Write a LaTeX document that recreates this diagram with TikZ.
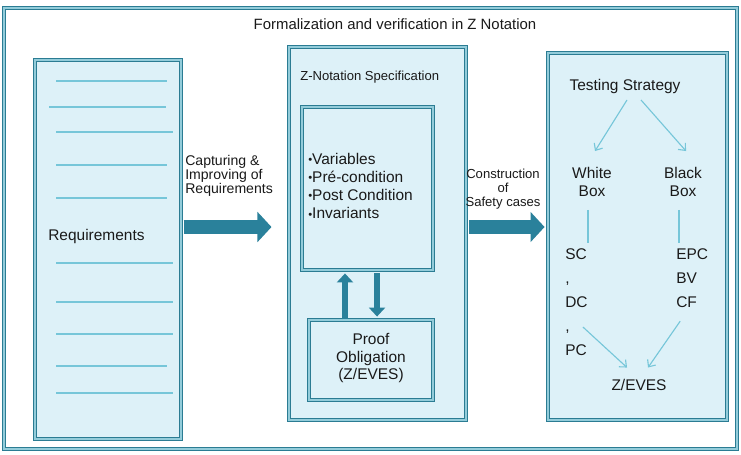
\documentclass[tikz,border=0pt]{standalone}
\usepackage{xcolor}
\usepackage{fontspec}
\setmainfont{Liberation Sans}
\usetikzlibrary{arrows.meta,fit}
\definecolor{ZEdge}{HTML}{2B7C93}
\definecolor{ZPale}{HTML}{93CCDA}
\definecolor{ZFill}{HTML}{DDF1F8}
\definecolor{ZLine}{HTML}{76C6D9}
\definecolor{ZArrow}{HTML}{2A819B}
\definecolor{ZText}{HTML}{1A1A1A}
\newcommand{\zbullet}{\raisebox{0.6pt}{\fontsize{8}{8}\selectfont\textbullet}}
\tikzset{
  panel/.style={draw=ZEdge,double=ZPale,double distance=0.9pt,line width=0.9pt,fill=ZFill,inner sep=0pt},
  frame/.style={draw=ZEdge,double=ZPale,double distance=0.9pt,line width=0.9pt,fill=white,inner sep=0pt},
  reqline/.style={ZLine,line width=1pt},
  tline/.style={ZLine,line width=0.8pt},
  tarrow/.style={ZLine,line width=0.8pt,-{Straight Barb[length=4pt,width=7pt]}},
  bigarrow/.style={ZArrow,line width=10pt,-{Triangle[width=21pt,length=10pt]}},
  smallarrow/.style={ZArrow,line width=4.3pt,-{Triangle[width=11.4pt,length=6.4pt]}},
  tx/.style={text=ZText,inner sep=0pt,font=\fontsize{11}{12.8}\selectfont}
}
\begin{document}
\begin{tikzpicture}[x=0.025cm,y=-0.025cm]
\path[use as bounding box] (0,0) rectangle (741,454);
\node[frame,fit={(4,8) (737,449)}] (outer) {};
\node[tx,font=\fontsize{10.6}{12}\selectfont] (title) at (395,24) {Formalization and verification in Z Notation};

\node[panel,fit={(35,60) (181,439)}] (req) {};
\draw[reqline] (56,81) -- (167,81);
\draw[reqline] (49,107) -- (166,107);
\draw[reqline] (56,132) -- (173,132);
\draw[reqline] (56,165) -- (167,165);
\draw[reqline] (56,198) -- (167,198);
\draw[reqline] (56,263) -- (173,263);
\draw[reqline] (56,302) -- (173,302);
\draw[reqline] (56,334) -- (173,334);
\draw[reqline] (56,366) -- (167,366);
\draw[reqline] (56,393) -- (173,393);
\node[tx,anchor=west] (reqlabel) at (48,236) {Requirements};

\node[panel,fit={(289,47) (466,420)}] (zspec) {};
\node[tx,anchor=west,font=\fontsize{9.3}{11}\selectfont] (zspectitle) at (300,77) {Z-Notation Specification};
\node[panel,fit={(302,107) (433,270)}] (zinner) {};
\node[tx,anchor=west,align=left,font=\fontsize{11}{13}\selectfont] (zitems) at (308,186) {\zbullet Variables\\\zbullet Pré-condition\\\zbullet Post Condition\\\zbullet Invariants};
\node[panel,fit={(309,320) (433,400)}] (proof) {};
\node[tx,align=center,font=\fontsize{11}{12.4}\selectfont] (prooftext) at (371,358) {Proof\\Obligation\\(Z/EVES)};
\coordinate (upfoot) at ([xshift=-18.5pt]proof.north);
\coordinate (downfoot) at ([xshift=4.3pt]proof.north);
\draw[smallarrow,shorten >=2pt] (upfoot) -- (upfoot |- zinner.south);
\draw[smallarrow,shorten <=2pt,shorten >=2pt] (downfoot |- zinner.south) -- (downfoot);

\node[panel,fit={(548,53) (727,420)}] (test) {};
\node[tx] (strategy) at (625,86) {Testing Strategy};
\node[tx,align=center] (white) at (592,182) {White\\Box};
\node[tx,align=center] (black) at (683,182) {Black\\Box};
\node[tx,anchor=west,align=left,font=\fontsize{11}{17}\selectfont] (wbcases) at (565,302) {SC\\,\\DC\\,\\PC};
\node[tx,anchor=west,align=left,font=\fontsize{11}{17}\selectfont] (bbcases) at (676,278) {EPC\\BV\\CF};
\node[tx] (zeves) at (639,385) {Z/EVES};
\draw[tarrow] ([shift={(2,6.5)}]strategy.south) -- ([shift={(3,-16)}]white.north);
\draw[tarrow] ([shift={(16,6.5)}]strategy.south) -- ([shift={(3,-16)}]black.north);
\draw[tline] ([shift={(-4,13)}]white.south) -- ([shift={(23,-5)}]wbcases.north west);
\draw[tline] ([shift={(-4,13)}]black.south) -- ([shift={(3,-5)}]bbcases.north west);
\draw[tarrow] ([shift={(-5,25)}]wbcases.east) -- ([shift={(-12,-11.5)}]zeves.north);
\draw[tarrow] ([shift={(-12,13.5)}]bbcases.south) -- ([shift={(9,-11.5)}]zeves.north);

\coordinate (midrow) at (0,227);
\draw[bigarrow,shorten <=1.4pt,shorten >=12pt] (req.east |- midrow) -- (zspec.west |- midrow);
\draw[bigarrow,shorten <=2pt,shorten >=2pt] (zspec.east |- midrow) -- (test.west |- midrow);
\node[tx,anchor=west,align=left,font=\fontsize{10}{10}\selectfont] (capture) at (185,176) {Capturing \&\\Improving of\\Requirements};
\node[tx,align=center,font=\fontsize{9.3}{10}\selectfont] (construct) at (503,189) {Construction\\of\\Safety cases};
\end{tikzpicture}
\end{document}
